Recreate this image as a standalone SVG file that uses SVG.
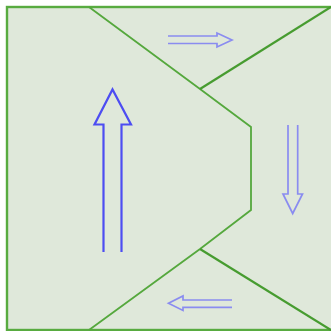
<svg xmlns="http://www.w3.org/2000/svg" width="331" height="331" viewBox="0 0 331 331">
<style>
.edge{fill:none;stroke:#479c30;stroke-width:2.2;stroke-linejoin:round}
.thin{fill:none;stroke:#55a83d;stroke-width:1.8}
.big{fill:none;stroke:#4d4df2;stroke-width:2.2;stroke-linejoin:miter}
.small{fill:none;stroke:#8a8cf0;stroke-width:1.7;stroke-linejoin:miter}
</style>
<rect x="0" y="0" width="331" height="331" fill="#ffffff"/>
<rect x="7" y="7" width="330" height="323" fill="#dfe8da" stroke="#58ab40" stroke-width="2.4"/>
<g id="lines">
<polyline class="thin" points="89,7 200,89 251,127 251,210 200,249 89,330"/>
<line class="edge" x1="200" y1="89" x2="331" y2="7"/>
<line class="edge" x1="200" y1="249" x2="331" y2="330"/>
</g>
<g id="arrow-up">
<path class="big" d="M103.5,252 V124.5 H94.5 L112.5,89.5 L131,124.5 H121.5 V252"/>
</g>
<g id="arrow-right">
<path class="small" d="M168,36 H217 V33 L232,40 L217,47 V43.5 H168"/>
</g>
<g id="arrow-down">
<path class="small" d="M288,125 V194 H283 L292.7,213.5 L302.5,194 H297.7 V125"/>
</g>
<g id="arrow-left">
<path class="small" d="M232,300 H183 V296 L168.5,303.3 L183,310.5 V307.3 H232"/>
</g>
</svg>
